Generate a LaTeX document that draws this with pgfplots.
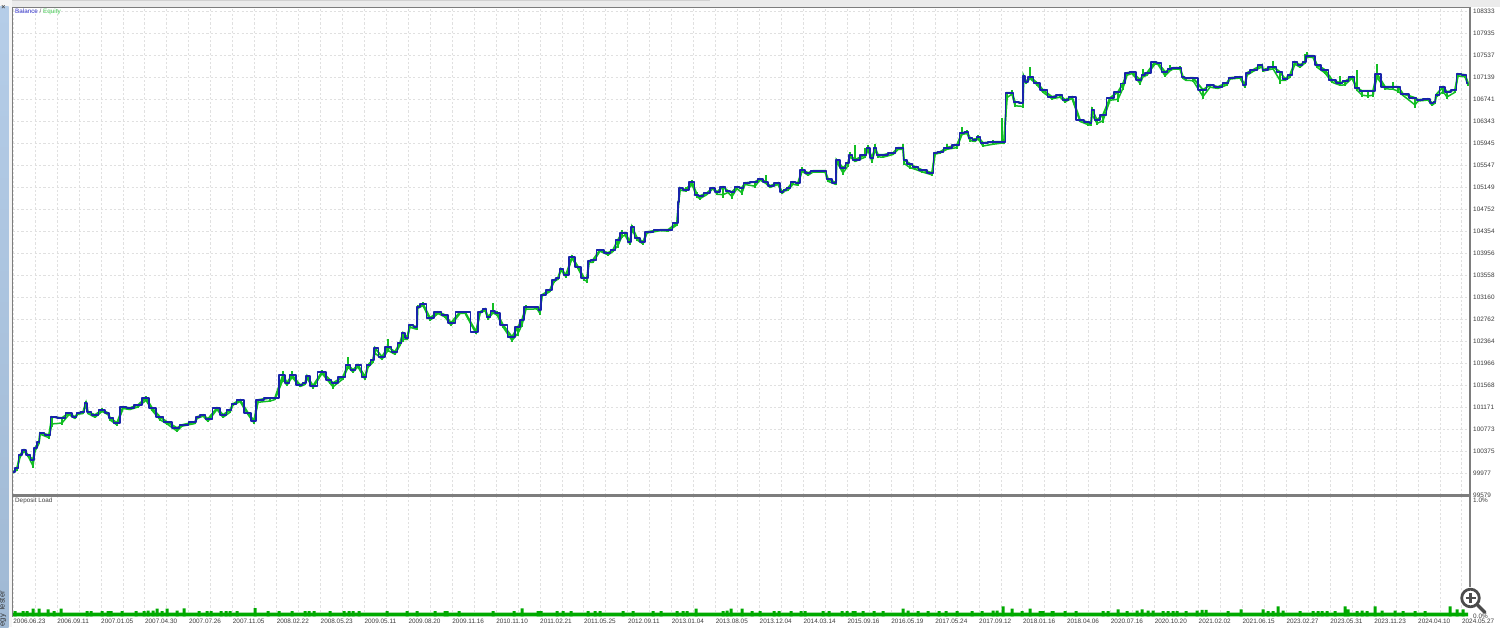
\documentclass[border=0pt]{standalone}
\usepackage{pgfplots}
\usepackage{pgfplotstable}
\usepackage{fontspec}
\setmainfont{Liberation Sans}
\pgfplotsset{compat=1.18}
\definecolor{mtblue}{RGB}{24,36,170}
\definecolor{mtgreen}{RGB}{18,190,36}
\definecolor{barGreen}{RGB}{0,170,0}
\definecolor{gridc}{RGB}{224,224,224}
\definecolor{framec}{RGB}{125,125,125}
\definecolor{labelc}{RGB}{60,60,60}
\definecolor{stripTop}{RGB}{181,205,232}
\definecolor{stripBot}{RGB}{160,185,212}
% x = position along the test (chart pixels), b = balance, u / d = equity excursions above / below the balance
\pgfplotstableread{
x b u d
13 99990 0 20
17 100062 0 40
20 100303 0 60
24 100393 20 30
28 100303 0 30
33 100212 0 150
35 100429 0 80
39 100538 0 40
40 100701 0 30
49 100664 0 70
52 100990 0 180
62 100972 0 130
69 101062 0 40
75 100990 0 40
78 101062 0 30
83 101080 0 40
86 101243 30 60
88 101080 0 40
95 101026 0 60
102 101117 40 40
108 101062 0 40
110 100972 0 50
117 100881 0 50
123 101171 0 40
130 101153 0 40
138 101207 0 50
146 101334 40 60
152 101153 0 60
160 100990 0 70
167 100900 0 50
177 100791 0 80
182 100845 0 30
195 100900 0 40
197 100990 0 40
203 101026 0 30
208 100954 0 60
217 101153 0 40
223 101026 0 60
230 101117 0 60
233 101225 0 30
240 101298 0 40
248 101062 0 40
254 100918 0 50
258 101298 0 60
270 101334 0 80
275 101334 0 40
283 101750 70 120
287 101605 0 60
292 101750 70 60
300 101569 0 40
305 101605 0 40
307 101732 0 60
313 101551 0 50
322 101804 30 40
330 101659 0 80
333 101605 0 100
343 101714 0 50
348 101931 150 60
353 101840 0 50
358 101931 0 50
365 101714 0 60
368 101931 0 60
373 102021 0 60
375 102238 0 130
382 102075 0 60
388 102256 150 90
395 102166 0 60
400 102329 0 60
403 102510 0 160
407 102419 0 40
410 102654 0 60
417 102618 0 60
417.5 102980 40 40
423 103034 30 40
430 102781 0 60
438 102889 0 40
445 102835 0 50
451 102690 0 60
460 102889 0 40
465 102889 0 30
476 102528 0 40
480 102889 0 30
485 102944 20 40
488 102799 0 50
493 102900 160 40
497 102871 30 50
503 102654 0 50
512 102437 0 90
518 102618 0 160
522 102745 0 130
526 102980 30 60
537 102980 0 50
540 102926 0 90
542 103197 0 30
550 103287 0 40
554 103468 0 50
558 103505 0 30
561 103667 0 30
566 103559 0 50
572 103884 30 30
578 103704 0 40
584 103505 0 50
587 103505 0 90
589 103812 0 40
593 103830 0 60
600 104011 20 30
608 103957 0 50
613 104011 0 40
618 104192 0 140
622 104319 50 90
625 104319 0 60
630 104156 0 60
632 104427 40 60
637 104228 0 50
643 104156 0 50
647 104337 20 30
660 104373 0 20
668 104373 0 30
677 104499 0 50
678.5 104879 0 60
680 105133 0 60
686 105096 60 30
692 105241 40 70
697 105006 60 50
700 104988 0 70
707 105042 0 40
713 105133 0 20
717 105060 0 60
723 105151 0 200
728 105078 0 40
732 105060 0 120
737 105151 0 40
742 105133 0 130
745 105223 0 40
755 105241 0 110
760 105295 0 30
766 105241 120 40
770 105169 0 40
778 105223 0 40
782 105060 0 40
785 105100 0 30
788 105133 0 60
793 105241 0 60
798 105223 0 60
802 105458 50 30
808 105404 0 60
813 105440 0 30
825 105440 0 30
828 105295 0 60
836 105223 0 40
836.5 105639 0 40
843 105494 0 130
848 105585 0 70
850 105730 60 40
855 105639 270 40
865 105730 130 60
868 105856 60 60
872 105675 0 90
875 105856 70 60
878 105730 0 50
883 105730 0 60
893 105766 0 40
898 105856 0 40
903 105856 70 40
904 105639 0 90
910 105570 0 100
915 105513 0 60
922 105458 0 50
932 105404 0 50
935 105766 0 30
940 105784 0 30
947 105860 60 40
957 105911 0 70
962 106128 110 40
967 106146 40 40
970 106037 0 70
975 106001 40 40
978 106055 30 50
983 105947 0 80
993 105965 40 60
1002 105965 430 30
1004 105965 0 40
1007 106851 0 120
1012 106851 60 30
1015 106688 0 100
1023 106670 0 90
1023.5 107159 0 60
1026 107050 0 40
1030 107141 170 40
1037 107032 0 50
1043 106905 0 60
1052 106779 0 50
1060 106815 0 60
1065 106725 0 50
1072 106779 0 40
1080 106363 0 40
1088 106320 0 60
1091 106308 0 60
1092 106544 50 120
1097 106363 0 90
1103 106453 0 150
1110 106761 0 60
1118 106869 0 190
1123 107020 0 120
1127 107213 0 60
1132 107231 0 40
1140 107086 0 90
1143 107170 110 40
1147 107213 0 60
1155 107412 20 50
1158 107394 0 40
1165 107231 0 100
1170 107280 70 40
1173 107303 20 30
1180 107303 40 30
1183 107141 0 40
1186 107120 0 60
1193 107123 0 70
1203 106905 0 170
1210 106996 0 60
1218 106960 0 40
1227 107032 0 50
1230 107123 0 30
1240 107141 0 30
1245 106996 0 60
1247 107213 0 60
1253 107267 0 40
1262 107358 0 50
1263 107267 0 30
1273 107322 110 50
1280 107231 0 220
1285 107104 0 40
1290 107177 0 60
1295 107412 0 60
1300 107358 0 60
1305 107412 150 30
1307 107521 70 30
1313 107521 20 40
1317 107358 0 60
1325 107267 0 80
1332 107086 0 60
1340 107032 130 60
1345 107060 0 90
1352 107141 0 30
1357 106942 330 60
1362 106887 0 110
1368 106887 0 130
1373 106887 0 110
1377 107195 170 90
1385 106960 0 50
1393 106960 80 60
1398 106960 0 110
1403 106833 0 40
1415 106761 0 180
1418 106725 0 30
1428 106743 0 30
1432 106670 0 60
1435 106688 0 30
1436 106815 0 60
1443 106960 0 120
1447 106869 0 130
1455 106905 0 60
1458 107195 0 50
1465 107177 0 50
1468 107032 0 60
}\balance
% x, deposit load in per cent
\pgfplotstableread{
x l
15 0.046
23 0.046
27 0.046
33 0.065
39 0.065
48 0.06
54 0.046
61 0.065
87 0.046
91 0.046
102 0.046
108 0.046
111 0.046
122 0.046
136 0.046
144 0.046
148 0.05
153 0.05
157 0.065
162 0.046
167 0.065
177 0.05
184 0.068
199 0.046
207 0.046
211 0.046
221 0.046
226 0.046
230 0.046
237 0.046
255 0.07
268 0.046
279 0.046
292 0.046
305 0.046
309 0.046
314 0.046
330 0.046
344 0.046
349 0.046
353 0.046
359 0.046
387 0.046
407 0.046
417 0.046
435 0.046
445 0.046
447 0.046
459 0.046
493 0.046
514 0.046
522 0.068
538 0.046
541 0.046
557 0.046
563 0.046
571 0.046
588 0.046
595 0.046
600 0.046
623 0.046
633 0.046
653 0.046
661 0.046
677 0.046
683 0.046
687 0.046
696 0.065
723 0.046
727 0.05
731 0.065
742 0.065
752 0.046
760 0.046
774 0.046
779 0.046
791 0.046
801 0.046
805 0.046
823 0.046
829 0.046
842 0.046
847 0.046
853 0.046
855 0.046
863 0.046
874 0.046
883 0.046
903 0.065
908 0.05
918 0.046
928 0.046
939 0.046
946 0.046
957 0.046
972 0.046
982 0.046
993 0.05
997 0.05
1003 0.085
1012 0.065
1022 0.046
1030 0.065
1040 0.046
1043 0.046
1052 0.046
1053 0.046
1065 0.046
1076 0.046
1103 0.046
1108 0.046
1118 0.06
1127 0.046
1137 0.05
1142 0.06
1148 0.05
1153 0.05
1163 0.046
1168 0.046
1173 0.046
1177 0.046
1186 0.046
1197 0.05
1202 0.055
1206 0.055
1228 0.046
1241 0.06
1263 0.06
1268 0.046
1273 0.046
1278 0.085
1283 0.05
1300 0.046
1313 0.046
1318 0.046
1322 0.046
1327 0.046
1335 0.046
1345 0.085
1348 0.06
1357 0.046
1362 0.05
1367 0.046
1375 0.085
1382 0.05
1395 0.05
1403 0.046
1415 0.046
1425 0.046
1450 0.085
1457 0.06
1463 0.06
}\load
\begin{document}
\begin{tikzpicture}[x=1pt,y=1pt]
\path[use as bounding box] (0,0) rectangle (1500,627);
\fill[white] (0,0) rectangle (1500,627);
\begin{scope}
\clip (0,0) rectangle (1500,627);
% window chrome
\fill[white!92!black] (0,620) rectangle (1500,627);
\fill[white!82!black] (0,625.5) rectangle (710,627);
\fill[white!96!black] (0,0) rectangle (12,627);
\shade[top color=stripTop,bottom color=stripBot] (0,0) rectangle (8.5,620);
\node[font=\fontsize{7.6}{8}\selectfont,text=black!80,rotate=90,anchor=south west,inner sep=0pt] at (6.5,0.5) {egy Tester};
\node[font=\fontsize{7}{7}\selectfont\bfseries,text=black!70,inner sep=0pt] at (3.3,620) {×};

\begin{axis}[
  at={(12.7pt,131.5pt)},anchor=south west,scale only axis,
  width=1457.3pt,height=488pt,
  xmin=12.7,xmax=1470,ymin=99570,ymax=108396,
  axis line style={draw=none},
  major tick length=0pt,minor tick length=0pt,
  xtick={13.2,57.1,101,144.9,188.8,232.7,276.6,320.5,364.4,408.3,452.2,496.1,540,583.9,627.8,671.7,715.6,759.5,803.4,847.3,891.2,935.1,979,1022.9,1066.8,1110.7,1154.6,1198.5,1242.4,1286.3,1330.2,1374.1,1418,1461.9},
  xticklabels={},
  minor x tick num=1,
  ytick={99579,99977,100375,100773,101171,101568,101966,102364,102762,103160,103558,103956,104354,104752,105149,105547,105945,106343,106741,107139,107537,107935,108333},
  yticklabels={99579,99977,100375,100773,101171,101568,101966,102364,102762,103160,103558,103956,104354,104752,105149,105547,105945,106343,106741,107139,107537,107935,108333},
  yticklabel pos=right,
  yticklabel style={font=\fontsize{6.4}{7}\selectfont,text=labelc,inner sep=0pt,anchor=west,xshift=3pt},
  grid=both,
  major grid style={gridc,line width=0.9pt,dash pattern=on 2.2pt off 2.2pt},
  minor grid style={gridc,line width=0.9pt,dash pattern=on 2.2pt off 2.2pt},
]
\addplot[mtgreen,line width=1.5pt,mark=none,line join=round] table[x=x,y expr=\thisrow{b}-0.7*\thisrow{d}] {\balance};
\addplot[mtgreen,line width=1.9pt,mark=none,
  error bars/.cd,y dir=both,y explicit,error mark=none,
  error bar style={mtgreen,line width=1.4pt}]
  table[x=x,y=b,y error plus=u,y error minus=d] {\balance};
\addplot[mtblue,line width=1.8pt,mark=none,const plot mark mid,line join=round] table[x=x,y=b] {\balance};
\end{axis}

\begin{axis}[
  at={(12.7pt,10.5pt)},anchor=south west,scale only axis,
  width=1457.3pt,height=119.5pt,
  xmin=12.7,xmax=1470,ymin=0,ymax=1,
  axis line style={draw=none},
  major tick length=0pt,minor tick length=0pt,
  xtick={13.2,57.1,101,144.9,188.8,232.7,276.6,320.5,364.4,408.3,452.2,496.1,540,583.9,627.8,671.7,715.6,759.5,803.4,847.3,891.2,935.1,979,1022.9,1066.8,1110.7,1154.6,1198.5,1242.4,1286.3,1330.2,1374.1,1418,1461.9},
  xticklabels={2006.06.23,2006.09.11,2007.01.05,2007.04.30,2007.07.26,2007.11.05,2008.02.22,2008.05.23,2009.05.11,2009.08.20,2009.11.16,2010.11.10,2011.02.21,2011.05.25,2012.09.11,2013.01.04,2013.08.05,2013.12.04,2014.03.14,2015.09.16,2016.05.19,2017.05.24,2017.09.12,2018.01.16,2018.04.06,2020.07.16,2020.10.20,2021.02.02,2021.06.15,2023.02.27,2023.05.31,2023.11.23,2024.04.10,2024.05.27},
  xticklabel style={font=\fontsize{6.4}{7}\selectfont,text=labelc,inner sep=0pt,anchor=north west,yshift=-2pt},
  minor x tick num=1,
  ytick={0,0.97},
  yticklabels={0.0\%,1.0\%},
  yticklabel pos=right,
  yticklabel style={font=\fontsize{6.4}{7}\selectfont,text=labelc,inner sep=0pt,anchor=west,xshift=3pt},
  xmajorgrids=true,xminorgrids=true,ymajorgrids=false,
  major grid style={gridc,line width=0.9pt,dash pattern=on 2.2pt off 2.2pt},
  minor grid style={gridc,line width=0.9pt,dash pattern=on 2.2pt off 2.2pt},
]
\addplot[ybar,bar width=3pt,bar shift=0pt,fill=barGreen,draw=none] table[x=x,y=l] {\load};
\addplot[fill=barGreen,draw=none] coordinates {(13,0)(13,0.033)(1468,0.033)(1468,0)} \closedcycle;
\end{axis}

% frame
\draw[framec,line width=1.5pt] (12.7,10.5) -- (12.7,619.5) -- (1470,619.5) -- (1470,40);
\draw[framec,line width=2.2pt] (12.7,131.5) -- (1470,131.5);
\node[anchor=west,inner sep=0pt,font=\fontsize{6.3}{7}\selectfont] at (15,615) {\textcolor{blue!75!black!80!white}{Balance} \textcolor{black!60}{/} \textcolor{mtgreen!80!white}{Equity}};
\node[anchor=west,inner sep=0pt,font=\fontsize{6.3}{7}\selectfont,text=black!75] at (15,126) {Deposit Load};
% magnifier
\fill[white] (1470.5,29) circle (10.5);
\draw[black!70,line width=2.8pt] (1470.5,29) circle (8.8);
\draw[black!70,line width=3.4pt,line cap=round] (1477.5,22) -- (1485,14.5);
\draw[black!70,line width=2.4pt] (1465.5,29) -- (1475.5,29) (1470.5,24) -- (1470.5,34);
\end{scope}
\end{tikzpicture}
\end{document}
